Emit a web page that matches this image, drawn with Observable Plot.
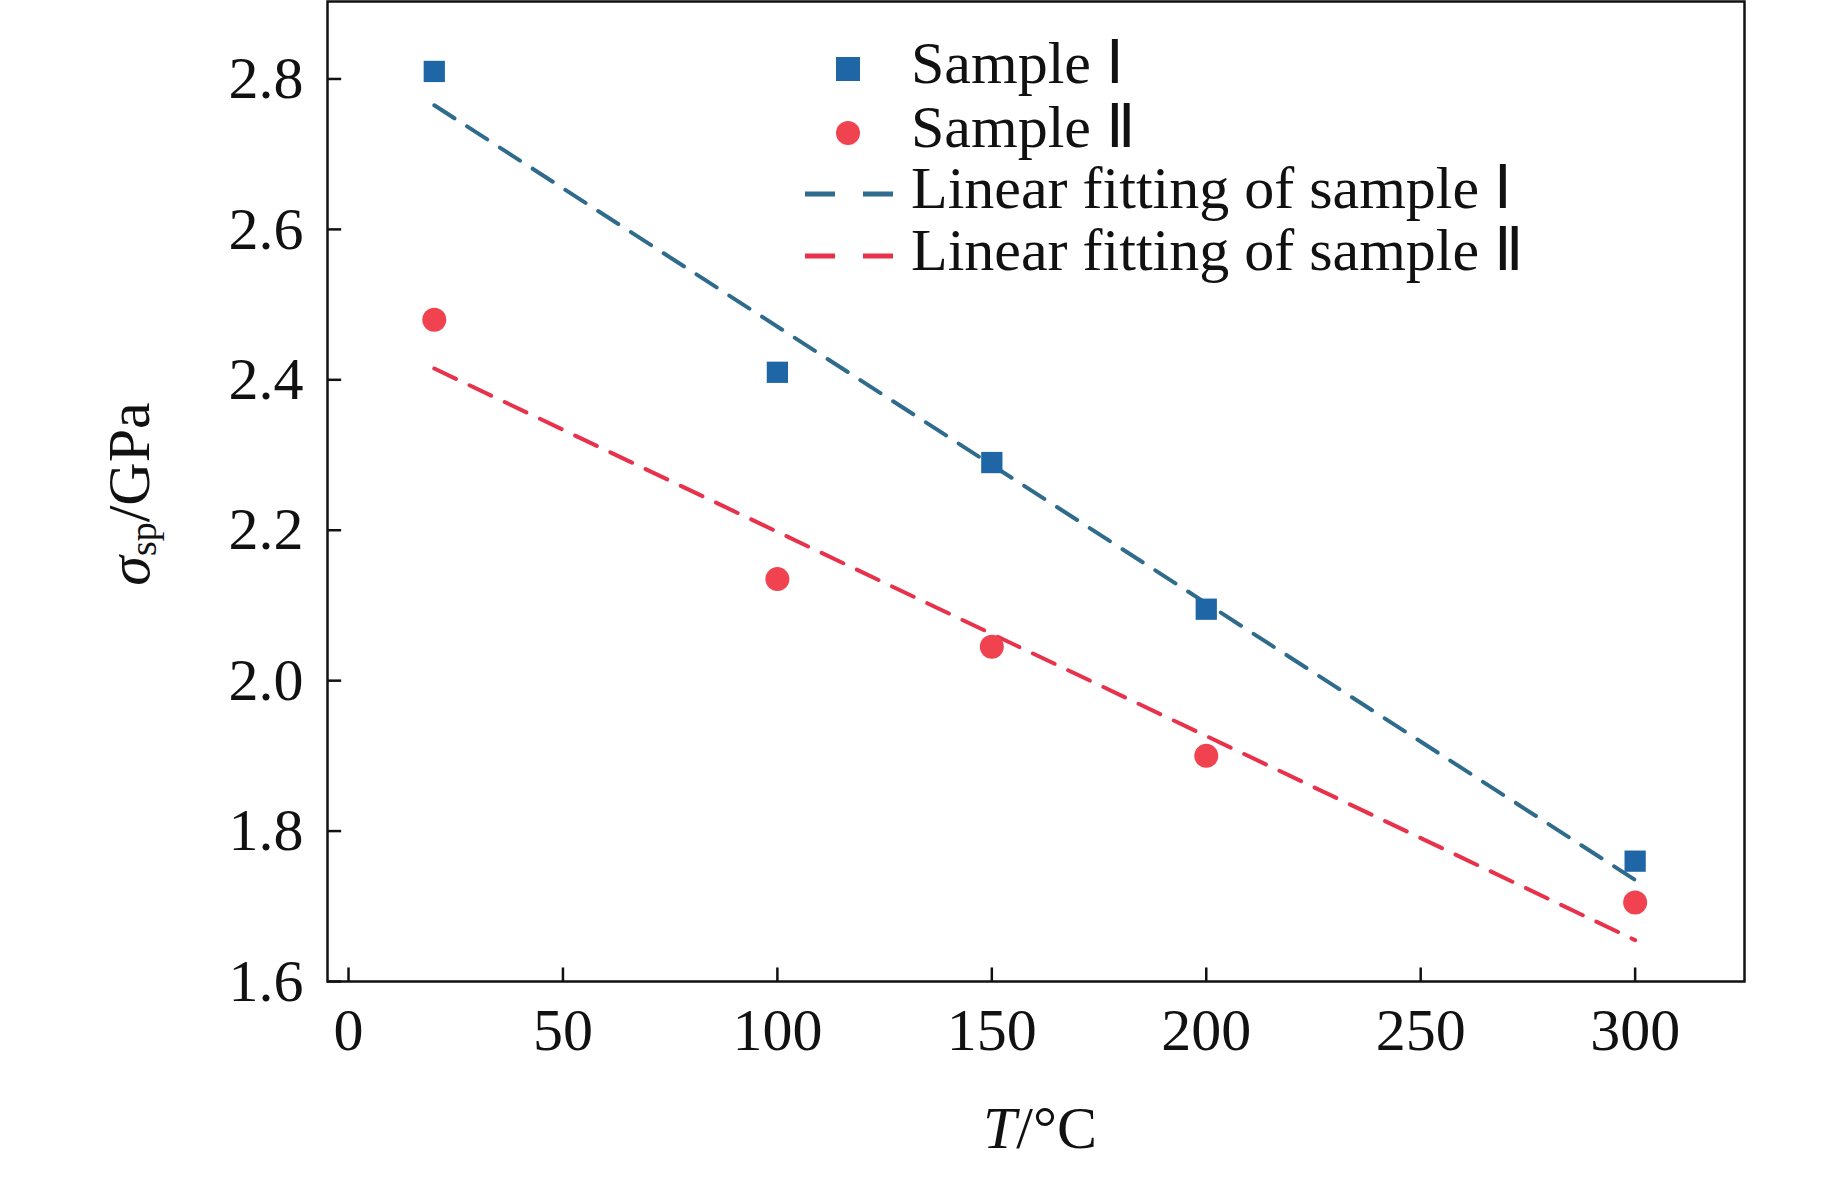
<!DOCTYPE html><html><head><meta charset="utf-8">
<script src="https://cdn.jsdelivr.net/npm/d3@7"></script>
<script src="https://cdn.jsdelivr.net/npm/@observablehq/plot@0.6"></script>
<style>body{margin:0;background:#fff}</style></head><body><div id="c"></div><script>
const temps=[20,100,150,200,300];
const s1=[2.81,2.41,2.29,2.095,1.76];
const s2=[2.48,2.135,2.045,1.90,1.705];
const fitX=[20,300];
const fit1=[2.765,1.735];
const fit2=[2.415,1.655];
const xTicks=[0,50,100,150,200,250,300];
const yTicks=[1.6,1.8,2.0,2.2,2.4,2.6,2.8];
const C1="#1f66a6",C2="#f0434f",F1="#2e6b8c",F2="#e8324c";
const font="Liberation Serif, Times New Roman, serif";
const d1=temps.map((t,i)=>({t,v:s1[i]})), d2=temps.map((t,i)=>({t,v:s2[i]}));
const l1=fitX.map((t,i)=>({t,v:fit1[i]})), l2=fitX.map((t,i)=>({t,v:fit2[i]}));
const svg=Plot.plot({width:1843,height:1180,marginLeft:327,marginRight:99,marginTop:1,marginBottom:199,
 style:{fontFamily:font,fontSize:"60px",background:"#fff"},
 x:{domain:[-4.9,325.5],ticks:xTicks},
 y:{domain:[1.6,2.903],ticks:yTicks},
 marks:[
  Plot.axisX(xTicks,{tickSize:0,tickPadding:26,label:null,fontSize:60,fill:"#111"}),
  Plot.axisY(yTicks,{tickSize:0,tickPadding:24,label:null,fontSize:60,fill:"#111",tickFormat:d=>d.toFixed(1)}),
  Plot.ruleX(xTicks,{x:d=>d,y1:1.6,y2:1.6+0.018,stroke:"#111",strokeWidth:2.5}),
  Plot.ruleY(yTicks,{y:d=>d,x1:-4.9,x2:-1.6,stroke:"#111",strokeWidth:2.5}),
  Plot.line(l1,{x:"t",y:"v",stroke:F1,strokeWidth:4,strokeDasharray:"24,15"}),
  Plot.line(l2,{x:"t",y:"v",stroke:F2,strokeWidth:4,strokeDasharray:"24,15"}),
  Plot.dot(d1,{x:"t",y:"v",symbol:"square",r:12,fill:C1}),
  Plot.dot(d2,{x:"t",y:"v",symbol:"circle",r:12,fill:C2}),
  Plot.frame({stroke:"#111",strokeWidth:2.5})
 ]});
const s=d3.select(svg);
const T=(x,y,txt)=>s.append("text").attr("x",x).attr("y",y).attr("text-anchor","start").attr("font-family",font).attr("font-size",60).attr("fill","#111").attr("dominant-baseline","middle").text(txt);
const rows=[69,133,194,256];
s.append("rect").attr("x",836).attr("y",rows[0]-12).attr("width",24).attr("height",24).attr("fill",C1);
s.append("circle").attr("cx",848).attr("cy",rows[1]).attr("r",12).attr("fill",C2);
s.append("line").attr("x1",805).attr("x2",895).attr("y1",rows[2]).attr("y2",rows[2]).attr("stroke",F1).attr("stroke-width",5).attr("stroke-dasharray","30,28");
s.append("line").attr("x1",805).attr("x2",895).attr("y1",rows[3]).attr("y2",rows[3]).attr("stroke",F2).attr("stroke-width",5).attr("stroke-dasharray","30,28");
["Sample Ⅰ","Sample Ⅱ","Linear fitting of sample Ⅰ","Linear fitting of sample Ⅱ"].forEach((t,i)=>T(911,rows[i],t));
const xl=s.append("text").attr("x",1040).attr("y",1134).attr("text-anchor","middle").attr("font-family",font).attr("font-size",60).attr("fill","#111").attr("dominant-baseline","middle");
xl.append("tspan").attr("font-style","italic").text("T");xl.append("tspan").text("/°C");
const yl=s.append("text").attr("transform","translate(135,494) rotate(-90)").attr("text-anchor","middle").attr("font-family",font).attr("font-size",60).attr("fill","#111").attr("dominant-baseline","middle");
yl.append("tspan").attr("font-style","italic").text("σ");
yl.append("tspan").attr("font-size",38).attr("dy",12).text("sp");
yl.append("tspan").attr("dy",-12).text("/GPa");
document.getElementById("c").append(svg);
</script></body></html>
